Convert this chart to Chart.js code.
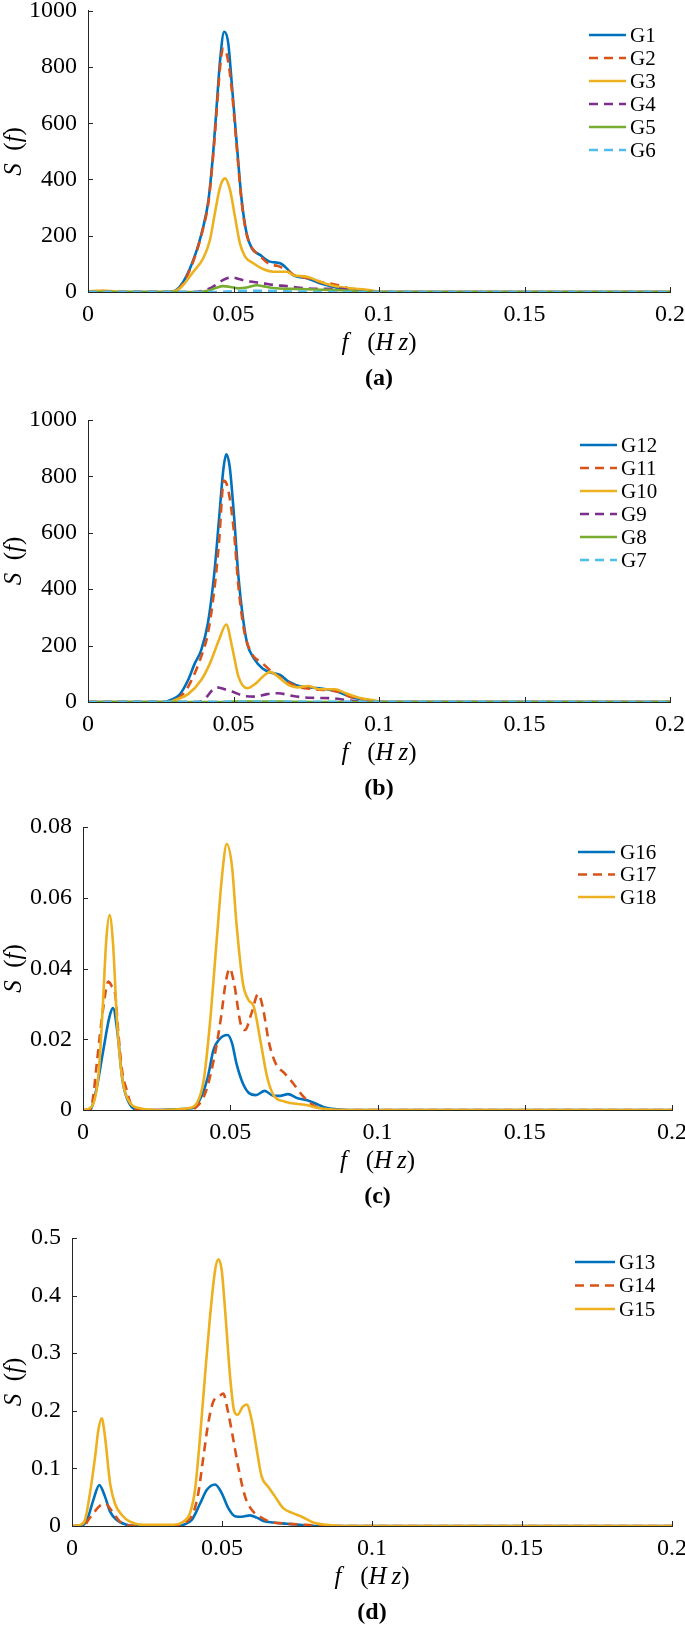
<!DOCTYPE html>
<html><head><meta charset="utf-8">
<script src="https://cdn.jsdelivr.net/npm/chart.js@4.4.0/dist/chart.umd.min.js"></script>
<style>
html,body{margin:0;padding:0;background:#fff;}
body{width:685px;height:1630px;position:relative;overflow:hidden;}
canvas{position:absolute;left:0;}
</style></head><body>
<canvas id="ca"></canvas>
<canvas id="cb"></canvas>
<canvas id="cc"></canvas>
<canvas id="cd"></canvas>
<script>
// ---------- DATA ----------
const xTicks = [0, 0.05, 0.1, 0.15, 0.2];
const xTickLabels = ['0', '0.05', '0.1', '0.15', '0.2'];
const yTicksAB = [0, 200, 400, 600, 800, 1000];
const yTickLabelsAB = ['0', '200', '400', '600', '800', '1000'];
const yTicksC = [0, 0.02, 0.04, 0.06, 0.08];
const yTickLabelsC = ['0', '0.02', '0.04', '0.06', '0.08'];
const yTicksD = [0, 0.1, 0.2, 0.3, 0.4, 0.5];
const yTickLabelsD = ['0', '0.1', '0.2', '0.3', '0.4', '0.5'];

const namesA = ['G1', 'G2', 'G3', 'G4', 'G5', 'G6'];
const namesB = ['G12', 'G11', 'G10', 'G9', 'G8', 'G7'];
const namesC = ['G16', 'G17', 'G18'];
const namesD = ['G13', 'G14', 'G15'];

// panel (a): [f (Hz), S(f)]
const G1 = [[0,0],[0.028,0],[0.0316,19],[0.0362,114],[0.0396,232],[0.0414,327],[0.0431,505],[0.0442,659],[0.0454,825],[0.0468,925],[0.0482,884],[0.0494,742],[0.0511,529],[0.0528,327],[0.0545,209],[0.0563,155],[0.0591,132],[0.0625,108],[0.066,102],[0.0683,84],[0.0705,60],[0.0752,49],[0.0797,31],[0.0842,19],[0.0889,8],[0.0935,3],[0.1,0],[0.2,0]];
const G2 = [[0,0],[0.028,0],[0.0316,15],[0.0362,110],[0.0396,228],[0.0414,320],[0.0431,495],[0.0442,640],[0.0454,800],[0.0464,865],[0.0478,840],[0.0494,720],[0.0511,515],[0.0528,320],[0.0545,205],[0.0563,158],[0.0591,128],[0.0625,98],[0.065,93],[0.068,80],[0.0705,62],[0.0752,50],[0.08,35],[0.083,31],[0.086,24],[0.09,12],[0.095,4],[0.1,0],[0.2,0]];
const G3 = [[0,2],[0.005,5],[0.01,1],[0.028,0],[0.0316,13],[0.0362,72],[0.0396,120],[0.0419,185],[0.0436,280],[0.0454,374],[0.0471,404],[0.0488,363],[0.0505,268],[0.0522,173],[0.054,126],[0.0568,102],[0.0603,81],[0.0637,72],[0.0683,72],[0.0705,60],[0.0752,54],[0.0797,37],[0.0843,22],[0.09,13],[0.0958,8],[0.1,1],[0.105,0],[0.2,0]];
const G4 = [[0,0],[0.036,0],[0.04,6],[0.043,19],[0.0465,43],[0.0494,52],[0.0522,45],[0.0557,37],[0.0591,33],[0.0637,25],[0.0683,21],[0.0729,15],[0.0797,11],[0.0866,11],[0.0912,4],[0.096,0],[0.2,0]];
const G5 = [[0,0],[0.038,0],[0.0415,5],[0.044,15],[0.0465,21],[0.049,18],[0.0515,13],[0.055,17],[0.058,24],[0.0605,20],[0.0637,14],[0.0705,11],[0.08,8],[0.087,6],[0.092,2],[0.1,0],[0.2,0]];
const G6 = [[0,0],[0.044,0],[0.05,3],[0.06,4],[0.07,2],[0.08,0],[0.2,0]];

// panel (b)
const G12 = [[0,0],[0.026,0],[0.0284,7],[0.0314,25],[0.0344,78],[0.0367,137],[0.0389,184],[0.0412,279],[0.0434,456],[0.045,645],[0.0465,823],[0.0475,878],[0.0487,834],[0.0502,657],[0.0517,444],[0.0532,302],[0.0547,208],[0.057,155],[0.06,119],[0.063,104],[0.066,96],[0.069,72],[0.0735,54],[0.0795,49],[0.0856,37],[0.09,19],[0.0961,7],[0.1,0],[0.2,0]];
const G11 = [[0,0],[0.028,0],[0.031,12],[0.0344,54],[0.0389,161],[0.0412,243],[0.0434,397],[0.045,563],[0.0467,785],[0.0482,752],[0.0502,598],[0.0517,409],[0.0536,255],[0.0562,173],[0.06,137],[0.0638,102],[0.0675,78],[0.072,54],[0.078,45],[0.0856,37],[0.09,19],[0.0961,7],[0.1,0],[0.2,0]];
const G10 = [[0,0],[0.028,0],[0.0299,7],[0.0344,28],[0.0389,78],[0.0419,137],[0.045,220],[0.0475,275],[0.0495,196],[0.0517,90],[0.0547,49],[0.0577,66],[0.0607,96],[0.0627,107],[0.0653,90],[0.069,60],[0.072,52],[0.0758,57],[0.0795,45],[0.0848,45],[0.0886,31],[0.0931,15],[0.0976,7],[0.102,0],[0.2,0]];
const G9 = [[0,0],[0.038,0],[0.0405,15],[0.0425,40],[0.0442,52],[0.047,45],[0.0495,37],[0.0539,21],[0.0577,19],[0.0615,28],[0.0653,31],[0.0705,21],[0.0765,15],[0.0841,13],[0.0886,7],[0.093,2],[0.098,0],[0.2,0]];
const G8 = [[0,0],[0.045,0],[0.05,2],[0.06,2],[0.07,1],[0.08,0],[0.2,0]];
const G7 = [[0,0],[0.05,1],[0.2,0]];

// panel (c)
const G16 = [[0,0],[0.0023,0],[0.0045,0.0057],[0.0067,0.016],[0.009,0.0264],[0.0102,0.0288],[0.0116,0.0226],[0.0134,0.0085],[0.0157,0.0019],[0.0194,0],[0.0372,0.0005],[0.0402,0.0038],[0.0424,0.0094],[0.0443,0.017],[0.0461,0.0198],[0.0491,0.0212],[0.0506,0.0189],[0.0521,0.0132],[0.0543,0.0075],[0.0565,0.0047],[0.0587,0.0042],[0.0617,0.0054],[0.0647,0.004],[0.0669,0.004],[0.0696,0.0045],[0.0729,0.0033],[0.0758,0.0028],[0.0788,0.0019],[0.0818,0.0008],[0.086,0.0002],[0.09,0],[0.2,0]];
const G17 = [[0,0],[0.0025,0],[0.0035,0.004],[0.0047,0.0133],[0.0069,0.029],[0.0086,0.0363],[0.0098,0.035],[0.0109,0.033],[0.012,0.0217],[0.0133,0.011],[0.0148,0.0057],[0.0165,0.0012],[0.019,0],[0.036,0],[0.0387,0.001],[0.0417,0.0052],[0.0446,0.015],[0.0469,0.0264],[0.0484,0.0358],[0.0498,0.04],[0.0513,0.0358],[0.0535,0.0245],[0.055,0.0226],[0.0572,0.0273],[0.0595,0.0328],[0.061,0.0292],[0.0632,0.0189],[0.0654,0.0132],[0.0684,0.0104],[0.0714,0.0075],[0.0744,0.0042],[0.0781,0.0014],[0.082,0.0002],[0.086,0],[0.2,0]];
const G18 = [[0,0],[0.003,0.001],[0.0053,0.0104],[0.0067,0.029],[0.0079,0.048],[0.009,0.0551],[0.0102,0.047],[0.0116,0.0245],[0.0134,0.0085],[0.0157,0.0024],[0.0194,0.0005],[0.025,0],[0.0357,0.0005],[0.0387,0.002],[0.041,0.0085],[0.0431,0.0245],[0.0454,0.048],[0.0473,0.0669],[0.0488,0.0752],[0.0506,0.0688],[0.0521,0.0528],[0.0543,0.0358],[0.0562,0.0311],[0.058,0.0292],[0.0602,0.0198],[0.0625,0.0094],[0.0647,0.0042],[0.0684,0.0024],[0.0758,0.0014],[0.0803,0.0005],[0.09,0],[0.2,0]];

// panel (d)
const G13 = [[0,0],[0.0038,0.002],[0.0054,0.016],[0.0071,0.045],[0.0091,0.071],[0.011,0.051],[0.0127,0.025],[0.0149,0.0104],[0.0182,0.002],[0.022,0],[0.035,0],[0.0371,0.002],[0.0399,0.0104],[0.0427,0.039],[0.0449,0.0625],[0.0477,0.072],[0.0499,0.057],[0.0521,0.031],[0.0543,0.017],[0.0566,0.016],[0.0593,0.0185],[0.0616,0.0145],[0.0638,0.0087],[0.0671,0.006],[0.0716,0.004],[0.076,0.002],[0.082,0],[0.2,0]];
const G14 = [[0,0],[0.004,0],[0.0054,0.01],[0.0071,0.022],[0.0093,0.035],[0.011,0.039],[0.0138,0.022],[0.016,0.0075],[0.0182,0.002],[0.021,0],[0.036,0],[0.0382,0.0075],[0.0404,0.022],[0.0421,0.057],[0.0438,0.12],[0.0454,0.178],[0.0471,0.216],[0.0491,0.225],[0.0504,0.23],[0.0519,0.201],[0.0536,0.155],[0.0554,0.103],[0.0577,0.051],[0.0599,0.028],[0.0627,0.016],[0.066,0.0075],[0.0716,0.004],[0.0782,0.002],[0.085,0],[0.2,0]];
const G15 = [[0,0],[0.0027,0.002],[0.0043,0.01],[0.006,0.057],[0.0077,0.12],[0.0088,0.167],[0.0099,0.187],[0.011,0.155],[0.0127,0.074],[0.0143,0.039],[0.0166,0.019],[0.0193,0.0075],[0.0238,0.002],[0.0327,0.002],[0.0371,0.0075],[0.0393,0.022],[0.041,0.0625],[0.0427,0.155],[0.0443,0.259],[0.046,0.363],[0.0477,0.444],[0.0488,0.463],[0.0499,0.444],[0.0512,0.363],[0.0527,0.259],[0.054,0.201],[0.0552,0.193],[0.0569,0.207],[0.0582,0.211],[0.0599,0.184],[0.0616,0.132],[0.0632,0.086],[0.0654,0.068],[0.0677,0.051],[0.0704,0.031],[0.0738,0.022],[0.0766,0.016],[0.0804,0.006],[0.0849,0.002],[0.09,0],[0.2,0]];

// ---------- STYLE ----------
const C = {blue:'#0072BD', orange:'#D95319', yellow:'#EDB120', purple:'#7E2F8E', green:'#77AC30', cyan:'#4DBEEE'};
const SIX = [[C.blue,false],[C.orange,true],[C.yellow,false],[C.purple,true],[C.green,false],[C.cyan,true]];
const SERIF = '"Liberation Serif", "Times New Roman", serif';
const AXC = '#262626';
const TICKFONT = 24;

function drawSegs(ctx, segs, cx, cy, size) {
  const fonts = segs.map(s => (s[1] === 'b' ? 'bold ' : s[1] ? 'italic ' : '') + size + 'px ' + SERIF);
  const w = segs.map((s, i) => { ctx.font = fonts[i]; return ctx.measureText(s[0]).width; });
  let x = cx - w.reduce((a, b) => a + b, 0) / 2;
  ctx.textAlign = 'left'; ctx.textBaseline = 'middle';
  segs.forEach((s, i) => { ctx.font = fonts[i]; ctx.fillText(s[0], x, cy); x += w[i]; });
}

function makePanel(cfg) {
  const cv = document.getElementById(cfg.id);
  cv.width = 685; cv.height = cfg.H;
  cv.style.top = cfg.top + 'px'; cv.style.width = '685px'; cv.style.height = cfg.H + 'px';
  const n = cfg.series.length;
  const datasets = cfg.series.map((s, i) => ({
    label: cfg.names[i],
    data: s.map(p => ({x: p[0], y: p[1]})),
    borderColor: SIX[i][0],
    borderWidth: 2.6,
    borderDash: SIX[i][1] ? [9, 6] : [],
    pointRadius: 0,
    fill: false,
    cubicInterpolationMode: 'monotone',
    order: n - 1 - i
  }));
  const overlay = {
    id: 'overlay',
    afterDraw(chart) {
      const ctx = chart.ctx, a = chart.chartArea;
      const xs = chart.scales.x, ys = chart.scales.y;
      ctx.save();
      ctx.strokeStyle = AXC; ctx.lineWidth = 1;
      xs.ticks.forEach(t => {
        const px = Math.round(xs.getPixelForValue(t.value)) + 0.5;
        ctx.beginPath(); ctx.moveTo(px, a.bottom); ctx.lineTo(px, a.bottom - 5); ctx.stroke();
      });
      ys.ticks.forEach(t => {
        const py = Math.round(ys.getPixelForValue(t.value)) + 0.5;
        ctx.beginPath(); ctx.moveTo(a.left, py); ctx.lineTo(a.left + 5, py); ctx.stroke();
      });
      // legend
      const L = cfg.legend;
      datasets.forEach((d, i) => {
        const y = a.top + L.y0 + i * L.dy;
        ctx.strokeStyle = d.borderColor; ctx.lineWidth = 2.6;
        ctx.setLineDash(d.borderDash);
        ctx.beginPath(); ctx.moveTo(L.x0, y); ctx.lineTo(L.x1, y); ctx.stroke();
        ctx.setLineDash([]);
        ctx.fillStyle = '#000'; ctx.font = '21px ' + SERIF;
        ctx.textAlign = 'left'; ctx.textBaseline = 'middle';
        ctx.fillText(d.label, L.tx, y + 1);
      });
      ctx.fillStyle = '#000';
      // y label
      ctx.save();
      ctx.translate(14, (a.top + a.bottom) / 2);
      ctx.rotate(-Math.PI / 2);
      drawSegs(ctx, [['S', true], ['  (', false], ['f', true], [')', false]], 0, 0, 25);
      ctx.restore();
      // x label
      const cx = (a.left + a.right) / 2;
      drawSegs(ctx, [['f', true], ['   (', false], ['H', true], ['\u2009z', true], [')', false]], cx, a.bottom + 51, 25);
      // panel letter
      drawSegs(ctx, [[cfg.letter, 'b']], cx, a.bottom + 87, 24);
      ctx.restore();
    }
  };
  new Chart(cv, {
    type: 'line',
    data: {datasets},
    options: {
      responsive: false, animation: false, devicePixelRatio: 1,
      layout: {padding: {left: 0, right: 685 - cfg.right, top: cfg.ctop, bottom: 0}},
      plugins: {legend: {display: false}, tooltip: {enabled: false}},
      scales: {
        x: {
          type: 'linear', min: 0, max: 0.2,
          grid: {display: false, drawTicks: false},
          border: {display: true, color: AXC, width: 1},
          afterBuildTicks: sc => { sc.ticks = xTicks.map(v => ({value: v})); },
          afterFit: sc => { sc.height = cfg.H - cfg.cbottom; sc.paddingLeft = 0; sc.paddingRight = 0; },
          ticks: {padding: 8, color: '#000', font: {family: SERIF, size: TICKFONT}, maxRotation: 0, autoSkip: false,
                  callback: (v, i) => xTickLabels[i]}
        },
        y: {
          type: 'linear', min: cfg.yTicks[0], max: cfg.yTicks[cfg.yTicks.length - 1],
          grid: {display: false, drawTicks: false},
          border: {display: true, color: AXC, width: 1},
          afterBuildTicks: sc => { sc.ticks = cfg.yTicks.map(v => ({value: v})); },
          afterFit: sc => { sc.width = cfg.left; sc.paddingTop = 0; sc.paddingBottom = 0; },
          ticks: {padding: 11, color: '#000', font: {family: SERIF, size: TICKFONT}, autoSkip: false,
                  callback: (v, i) => cfg.yLabels[i]}
        }
      }
    },
    plugins: [overlay]
  });
}

makePanel({id: 'ca', top: 0, H: 400, ctop: 10.7, cbottom: 292, left: 88, right: 670, letter: '(a)',
  series: [G1, G2, G3, G4, G5, G6], names: namesA, yTicks: yTicksAB, yLabels: yTickLabelsAB,
  legend: {x0: 589, x1: 626, tx: 630, y0: 24.3, dy: 23}});
makePanel({id: 'cb', top: 390, H: 415, ctop: 30, cbottom: 312, left: 88, right: 670, letter: '(b)',
  series: [G12, G11, G10, G9, G8, G7], names: namesB, yTicks: yTicksAB, yLabels: yTickLabelsAB,
  legend: {x0: 580, x1: 617, tx: 621, y0: 25, dy: 23}});
makePanel({id: 'cc', top: 790, H: 420, ctop: 37, cbottom: 320, left: 83, right: 672, letter: '(c)',
  series: [G16, G17, G18], names: namesC, yTicks: yTicksC, yLabels: yTickLabelsC,
  legend: {x0: 578, x1: 615, tx: 620, y0: 25, dy: 22.5}});
makePanel({id: 'cd', top: 1195, H: 435, ctop: 43, cbottom: 331, left: 72, right: 672, letter: '(d)',
  series: [G13, G14, G15], names: namesD, yTicks: yTicksD, yLabels: yTickLabelsD,
  legend: {x0: 575, x1: 615, tx: 619, y0: 24, dy: 23.5}});
</script>
</body></html>
